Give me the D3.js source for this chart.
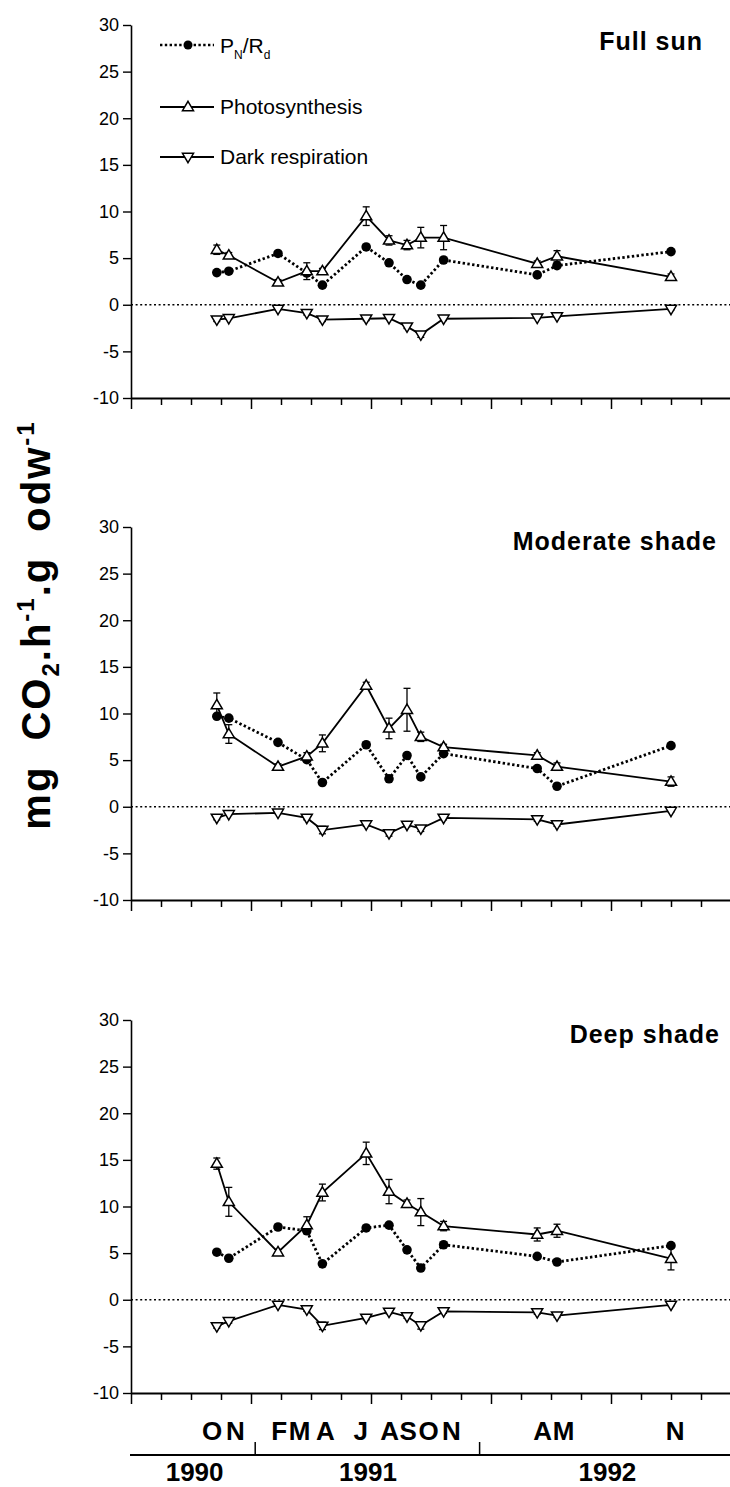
<!DOCTYPE html>
<html>
<head>
<meta charset="utf-8">
<script src="https://cdn.jsdelivr.net/npm/d3@7"></script>
<style>
  body { margin: 0; background: #fff; }
  svg { display: block; font-family: "Liberation Sans", Arial, Helvetica, sans-serif; }
</style>
</head>
<body>
<svg id="chart" width="730" height="1487"></svg>
<script>
// Sampling dates, as days after the start of the record
const sampleDay = [143, 163, 245, 293, 319, 392, 430, 460, 483, 521, 677, 710, 900];

const panelTitles = ["Full sun", "Moderate shade", "Deep shade"];

// Full sun
const sunPhoto    = [5.9, 5.3, 2.4, 3.6, 3.6, 9.5, 6.9, 6.4, 7.2, 7.2, 4.4, 5.2, 3.0];
const sunPhotoErr = [0.5, 0.3, 0.3, 0.9, 0.3, 1.0, 0.5, 0.5, 1.1, 1.3, 0.3, 0.6, 0.3];
const sunRatio    = [3.45, 3.6, 5.5, 3.4, 2.1, 6.2, 4.5, 2.7, 2.1, 4.8, 3.2, 4.2, 5.7];
const sunDark     = [-1.6, -1.45, -0.45, -0.9, -1.6, -1.5, -1.45, -2.35, -3.2, -1.5, -1.4, -1.25, -0.45];
const sunDarkErr  = [0.2, 0.1, 0.1, 0.2, 0.2, 0.2, 0.1, 0.2, 0.3, 0.2, 0.1, 0.1, 0.1];

// Moderate shade
const modPhoto    = [10.9, 7.8, 4.3, 5.4, 6.8, 13.0, 8.4, 10.4, 7.5, 6.4, 5.5, 4.3, 2.7];
const modPhotoErr = [1.3, 1.0, 0.3, 0.4, 0.9, 0.35, 1.1, 2.3, 0.5, 0.3, 0.3, 0.4, 0.5];
const modRatio    = [9.7, 9.5, 6.9, 5.05, 2.6, 6.65, 3.0, 5.5, 3.2, 5.7, 4.1, 2.2, 6.55];
const modDark     = [-1.2, -0.8, -0.65, -1.2, -2.5, -1.9, -2.85, -1.95, -2.35, -1.2, -1.35, -1.9, -0.45];
const modDarkErr  = [0.2, 0.1, 0.1, 0.2, 0.4, 0.2, 0.3, 0.2, 0.3, 0.2, 0.2, 0.2, 0.1];

// Deep shade
const deepPhoto    = [14.6, 10.5, 5.1, 8.0, 11.5, 15.7, 11.6, 10.3, 9.4, 7.9, 7.0, 7.4, 4.4];
const deepPhotoErr = [0.6, 1.55, 0.3, 0.9, 0.9, 1.2, 1.3, 0.4, 1.45, 0.5, 0.7, 0.7, 1.2];
const deepRatio    = [5.1, 4.45, 7.8, 7.4, 3.85, 7.7, 8.0, 5.35, 3.4, 5.9, 4.65, 4.05, 5.8];
const deepDark     = [-2.85, -2.3, -0.55, -1.05, -2.8, -1.95, -1.3, -1.8, -2.75, -1.25, -1.35, -1.7, -0.55];
const deepDarkErr  = [0.2, 0.2, 0.1, 0.2, 0.4, 0.2, 0.2, 0.2, 0.4, 0.2, 0.2, 0.2, 0.1];

// Axis labelling
const yTicks = [-10, -5, 0, 5, 10, 15, 20, 25, 30];
const xTickDays = d3.range(0, 1001, 50);
const monthLabels = ["O", "N", "F", "M", "A", "J", "A", "S", "O", "N", "A", "M", "N"];
const monthDay    = [135, 174, 247, 281, 324, 383, 431, 462, 496, 534, 686, 721, 907];
const yearLabels  = ["1990", "1991", "1992"];
const yearDay     = [106, 395, 794];
const yearBreakDay = [207, 581];

const seriesByPanel = [
  { photo: sunPhoto,  photoErr: sunPhotoErr,  ratio: sunRatio,  dark: sunDark,  darkErr: sunDarkErr },
  { photo: modPhoto,  photoErr: modPhotoErr,  ratio: modRatio,  dark: modDark,  darkErr: modDarkErr },
  { photo: deepPhoto, photoErr: deepPhotoErr, ratio: deepRatio, dark: deepDark, darkErr: deepDarkErr }
];

// ---- layout ----
const W = 730;
const axisX = 131;
const panelBox = [
  { top: 25,   bottom: 398,  titleX: 703, titleY: 50 },
  { top: 527,  bottom: 900,  titleX: 717, titleY: 550 },
  { top: 1020, bottom: 1393, titleX: 720, titleY: 1043 }
];

const svg = d3.select("#chart");
svg.append("rect").attr("width", W).attr("height", 1487).attr("fill", "#fff");

const x = d3.scaleLinear().domain([0, 1000]).range([axisX, axisX + 600]);

// open triangles, pointing up or down
const triUp = {
  draw(ctx, size) {
    const h = Math.sqrt(size);
    ctx.moveTo(0, -0.62 * h);
    ctx.lineTo(0.6 * h, 0.4 * h);
    ctx.lineTo(-0.6 * h, 0.4 * h);
    ctx.closePath();
  }
};
const triDown = {
  draw(ctx, size) {
    const h = Math.sqrt(size);
    ctx.moveTo(0, 0.62 * h);
    ctx.lineTo(0.6 * h, -0.4 * h);
    ctx.lineTo(-0.6 * h, -0.4 * h);
    ctx.closePath();
  }
};
const markSize = 85;
const upPath = d3.symbol().type(triUp).size(markSize)();
const downPath = d3.symbol().type(triDown).size(markSize)();

const ratioDash = "2.4,2.4";
const ratioWidth = 2.8;
const lineWidth = 1.8;

panelBox.forEach((box, pi) => {
  const s = seriesByPanel[pi];
  const y = d3.scaleLinear().domain([-10, 30]).range([box.bottom, box.top]);
  const g = svg.append("g");

  // y axis
  const yAxis = g.append("g")
    .attr("transform", `translate(${axisX},0)`)
    .call(d3.axisLeft(y).tickValues(yTicks).tickSize(8).tickSizeOuter(0)
      .tickPadding(4).tickFormat(d => String(d)));
  yAxis.select(".domain").attr("stroke", "#000").attr("stroke-width", 1.6);
  yAxis.selectAll(".tick line").attr("stroke", "#000").attr("stroke-width", 1.4);
  yAxis.selectAll(".tick text").attr("fill", "#000")
    .style("font-size", "18px").style("font-family", "'Liberation Sans', Arial, sans-serif");

  // x axis: a tick every 50 days, longer every 200 days
  const xAxis = g.append("g")
    .attr("transform", `translate(0,${box.bottom})`)
    .call(d3.axisBottom(x).tickValues(xTickDays).tickSize(6).tickSizeOuter(0).tickFormat(""));
  xAxis.select(".domain").attr("stroke", "#000").attr("stroke-width", 1.8);
  xAxis.selectAll(".tick line").attr("stroke", "#000").attr("stroke-width", 1.5)
    .attr("y2", d => (d % 200 === 0 ? 11 : 7));

  // zero reference
  g.append("line")
    .attr("x1", x(0)).attr("x2", W)
    .attr("y1", y(0)).attr("y2", y(0))
    .attr("stroke", "#000").attr("stroke-width", 1.5)
    .attr("stroke-dasharray", "2,2.6");

  const pts = key => sampleDay.map((d, i) => ({ day: d, v: s[key][i], e: s[key + "Err"] ? s[key + "Err"][i] : 0 }));
  const line = d3.line().x(d => x(d.day)).y(d => y(d.v));

  // PN/Rd
  const ratioPts = pts("ratio");
  g.append("path").datum(ratioPts).attr("d", line)
    .attr("fill", "none").attr("stroke", "#000")
    .attr("stroke-width", ratioWidth).attr("stroke-dasharray", ratioDash);
  g.selectAll(".ratio").data(ratioPts).join("circle")
    .attr("cx", d => x(d.day)).attr("cy", d => y(d.v)).attr("r", 4.8).attr("fill", "#000");

  // photosynthesis and dark respiration
  [["photo", upPath], ["dark", downPath]].forEach(([key, shape]) => {
    const p = pts(key);
    g.append("path").datum(p).attr("d", line)
      .attr("fill", "none").attr("stroke", "#000").attr("stroke-width", lineWidth);
    const err = g.append("g").selectAll("g").data(p).join("g")
      .attr("stroke", "#000").attr("stroke-width", 1.3);
    err.append("line")
      .attr("x1", d => x(d.day)).attr("x2", d => x(d.day))
      .attr("y1", d => y(d.v - d.e)).attr("y2", d => y(d.v + d.e));
    err.append("line")
      .attr("x1", d => x(d.day) - 3.5).attr("x2", d => x(d.day) + 3.5)
      .attr("y1", d => y(d.v + d.e)).attr("y2", d => y(d.v + d.e));
    err.append("line")
      .attr("x1", d => x(d.day) - 3.5).attr("x2", d => x(d.day) + 3.5)
      .attr("y1", d => y(d.v - d.e)).attr("y2", d => y(d.v - d.e));
    g.append("g").selectAll("path").data(p).join("path")
      .attr("d", shape)
      .attr("transform", d => `translate(${x(d.day)},${y(d.v)})`)
      .attr("fill", "#fff").attr("stroke", "#000").attr("stroke-width", 1.5);
  });

  // panel title
  g.append("text")
    .attr("x", box.titleX).attr("y", box.titleY)
    .attr("text-anchor", "end")
    .style("font-size", "25px").style("font-weight", "bold").style("letter-spacing", "1px")
    .text(panelTitles[pi]);

  // legend in the first panel
  if (pi === 0) {
    const lg = g.append("g");
    const rows = [
      { y: 45, dash: ratioDash, w: 2.4, mark: "circle" },
      { y: 107, dash: null, w: lineWidth, mark: upPath },
      { y: 157, dash: null, w: lineWidth, mark: downPath }
    ];
    rows.forEach(r => {
      lg.append("line").attr("x1", 160).attr("x2", 214).attr("y1", r.y).attr("y2", r.y)
        .attr("stroke", "#000").attr("stroke-width", r.w)
        .attr("stroke-dasharray", r.dash);
      if (r.mark === "circle") {
        lg.append("circle").attr("cx", 188).attr("cy", r.y).attr("r", 4.5).attr("fill", "#000");
      } else {
        lg.append("path").attr("d", r.mark).attr("transform", `translate(188,${r.y})`)
          .attr("fill", "#fff").attr("stroke", "#000").attr("stroke-width", 1.5);
      }
    });
    const t1 = lg.append("text").attr("x", 220).attr("y", 53).style("font-size", "21px");
    t1.append("tspan").text("P");
    t1.append("tspan").attr("dy", 6).style("font-size", "12px").text("N");
    t1.append("tspan").attr("dy", -6).text("/R");
    t1.append("tspan").attr("dy", 6).style("font-size", "12px").text("d");
    lg.append("text").attr("x", 220).attr("y", 114).style("font-size", "21px").text("Photosynthesis");
    lg.append("text").attr("x", 220).attr("y", 164).style("font-size", "21px").text("Dark respiration");
  }
});

// month initials under the last panel
svg.append("g").selectAll("text").data(monthLabels).join("text")
  .attr("x", (d, i) => x(monthDay[i])).attr("y", 1440)
  .attr("text-anchor", "middle")
  .style("font-size", "26px").style("font-weight", "bold")
  .text(d => d);

// year bar
const yearBarY = 1455;
svg.append("line").attr("x1", x(0) - 1).attr("x2", W).attr("y1", yearBarY).attr("y2", yearBarY)
  .attr("stroke", "#000").attr("stroke-width", 2);
svg.append("g").selectAll("line").data(yearBreakDay).join("line")
  .attr("x1", d => x(d)).attr("x2", d => x(d))
  .attr("y1", yearBarY - 13).attr("y2", yearBarY)
  .attr("stroke", "#000").attr("stroke-width", 1.5);
svg.append("g").selectAll("text").data(yearLabels).join("text")
  .attr("x", (d, i) => x(yearDay[i])).attr("y", 1481)
  .attr("text-anchor", "middle")
  .style("font-size", "26px").style("font-weight", "bold")
  .text(d => d);

// y axis title
const yt = svg.append("text")
  .attr("transform", "translate(50,625) rotate(-90)")
  .attr("text-anchor", "middle")
  .style("font-size", "40px").style("font-weight", "bold")
  .style("letter-spacing", "2px").style("word-spacing", "12px");
yt.append("tspan").text("mg CO");
yt.append("tspan").attr("dy", 9).style("font-size", "24px").text("2");
yt.append("tspan").attr("dy", -9).text(".h");
yt.append("tspan").attr("dy", -16).style("font-size", "24px").text("-1");
yt.append("tspan").attr("dy", 16).text(".g odw");
yt.append("tspan").attr("dy", -16).style("font-size", "24px").text("-1");
</script>
</body>
</html>
